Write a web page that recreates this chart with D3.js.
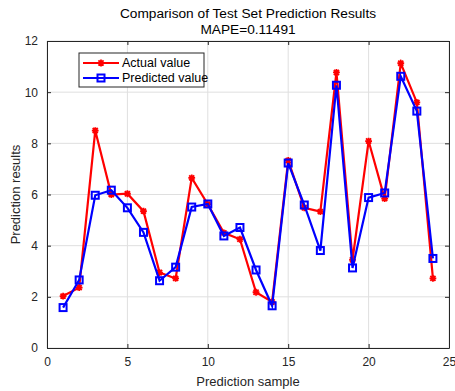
<!DOCTYPE html>
<html>
<head>
<meta charset="utf-8">
<script src="https://cdn.jsdelivr.net/npm/d3@7"></script>
<style>
  body { margin: 0; background: #fff; }
  text { font-family: "Liberation Sans", Arial, sans-serif; }
</style>
</head>
<body>
<svg id="chart" width="455" height="391"></svg>
<script>
// sample index 1..24
const samples = d3.range(1, 25);
const actualValues = [2.03, 2.36, 8.5, 6.0, 6.03, 5.35, 2.95, 2.72, 6.65, 5.62, 4.5, 4.25,
  2.18, 1.8, 7.33, 5.48, 5.33, 10.77, 3.45, 8.09, 5.84, 11.13, 9.6, 2.72];
const predictedValues = [1.58, 2.66, 5.97, 6.17, 5.48, 4.52, 2.63, 3.16, 5.51, 5.63, 4.38, 4.71,
  3.05, 1.65, 7.23, 5.59, 3.81, 10.27, 3.13, 5.88, 6.06, 10.62, 9.26, 3.5];
const xTicks = [0, 5, 10, 15, 20, 25];
const yTicks = [0, 2, 4, 6, 8, 10, 12];

const margin = {top: 41, right: 6, bottom: 43, left: 47};
const width = 455 - margin.left - margin.right;
const height = 391 - margin.top - margin.bottom;

const svg = d3.select('#chart');
const chart = svg.append('g')
  .attr('transform', `translate(${margin.left}, ${margin.top})`);

const xScale = d3.scaleLinear().domain([0, 25]).range([0, width]);
const yScale = d3.scaleLinear().domain([0, 12]).range([height, 0]);

// grid
chart.append('g')
  .selectAll('line.gx')
  .data(xTicks)
  .enter().append('line')
  .attr('x1', d => xScale(d)).attr('x2', d => xScale(d))
  .attr('y1', 0).attr('y2', height)
  .attr('stroke', '#dfdfdf').attr('stroke-width', 1);
chart.append('g')
  .selectAll('line.gy')
  .data(yTicks)
  .enter().append('line')
  .attr('y1', d => yScale(d)).attr('y2', d => yScale(d))
  .attr('x1', 0).attr('x2', width)
  .attr('stroke', '#dfdfdf').attr('stroke-width', 1);

// axes (inward ticks, box)
const axisColor = '#262626';
const xAxis = chart.append('g')
  .attr('transform', `translate(0, ${height})`)
  .call(d3.axisBottom(xScale).tickValues(xTicks).tickSizeInner(-4).tickSizeOuter(0).tickPadding(9));
const xAxisTop = chart.append('g')
  .call(d3.axisTop(xScale).tickValues(xTicks).tickSizeInner(-4).tickSizeOuter(0).tickFormat(''));
const yAxis = chart.append('g')
  .call(d3.axisLeft(yScale).tickValues(yTicks).tickSizeInner(-4).tickSizeOuter(0).tickPadding(9));
const yAxisRight = chart.append('g')
  .attr('transform', `translate(${width}, 0)`)
  .call(d3.axisRight(yScale).tickValues(yTicks).tickSizeInner(-4).tickSizeOuter(0).tickFormat(''));

[xAxis, xAxisTop, yAxis, yAxisRight].forEach(a => {
  a.select('.domain').attr('stroke', axisColor).attr('stroke-width', 1);
  a.selectAll('.tick line').attr('stroke', axisColor);
  a.selectAll('.tick text')
    .attr('fill', axisColor)
    .style('font-size', '12px')
    .style('font-family', '"Liberation Sans", Arial, sans-serif');
});

// lines
const line = d3.line().x(d => xScale(d[0])).y(d => yScale(d[1]));
const actualData = samples.map((s, i) => [s, actualValues[i]]);
const predictedData = samples.map((s, i) => [s, predictedValues[i]]);

function drawStar(g, x, y) {
  const r = 3.4;
  g.append('path')
    .attr('d', `M${x - r},${y}L${x + r},${y}M${x},${y - r}L${x},${y + r}` +
      `M${x - r * 0.75},${y - r * 0.75}L${x + r * 0.75},${y + r * 0.75}` +
      `M${x - r * 0.75},${y + r * 0.75}L${x + r * 0.75},${y - r * 0.75}`)
    .attr('stroke', '#ff0000').attr('stroke-width', 1.8).attr('fill', 'none');
}
function drawSquare(g, x, y) {
  const s = 7;
  g.append('rect')
    .attr('x', x - s / 2).attr('y', y - s / 2)
    .attr('width', s).attr('height', s)
    .attr('stroke', '#0000ff').attr('stroke-width', 2).attr('fill', 'none');
}

chart.append('path')
  .datum(actualData)
  .attr('d', line)
  .attr('fill', 'none').attr('stroke', '#ff0000').attr('stroke-width', 2.2);
const redMarks = chart.append('g');
actualData.forEach(d => drawStar(redMarks, xScale(d[0]), yScale(d[1])));

chart.append('path')
  .datum(predictedData)
  .attr('d', line)
  .attr('fill', 'none').attr('stroke', '#0000ff').attr('stroke-width', 2.2);
const blueMarks = chart.append('g');
predictedData.forEach(d => drawSquare(blueMarks, xScale(d[0]), yScale(d[1])));

// legend
const legend = chart.append('g').attr('transform', 'translate(32, 12)');
legend.append('rect')
  .attr('x', 0).attr('y', 0).attr('width', 125).attr('height', 34)
  .attr('fill', '#fff').attr('stroke', axisColor).attr('stroke-width', 1);
legend.append('line').attr('x1', 4).attr('x2', 40).attr('y1', 10).attr('y2', 10)
  .attr('stroke', '#ff0000').attr('stroke-width', 2.2);
drawStar(legend, 22, 10);
legend.append('line').attr('x1', 4).attr('x2', 40).attr('y1', 25).attr('y2', 25)
  .attr('stroke', '#0000ff').attr('stroke-width', 2.2);
drawSquare(legend, 22, 25);
legend.append('text').attr('x', 43).attr('y', 14).style('font-size', '12.5px').attr('fill', '#000').text('Actual value');
legend.append('text').attr('x', 43).attr('y', 29).style('font-size', '12.5px').attr('fill', '#000').text('Predicted value');

// titles and labels
svg.append('text')
  .attr('x', margin.left + width / 2).attr('y', 18)
  .attr('text-anchor', 'middle').style('font-size', '13.7px').attr('fill', '#000')
  .text('Comparison of Test Set Prediction Results');
svg.append('text')
  .attr('x', margin.left + width / 2).attr('y', 34)
  .attr('text-anchor', 'middle').style('font-size', '13.7px').attr('fill', '#000')
  .text('MAPE=0.11491');
svg.append('text')
  .attr('x', margin.left + width / 2).attr('y', 386)
  .attr('text-anchor', 'middle').style('font-size', '13px').attr('fill', axisColor)
  .text('Prediction sample');
svg.append('text')
  .attr('transform', `translate(20, ${margin.top + height / 2}) rotate(-90)`)
  .attr('text-anchor', 'middle').style('font-size', '13px').attr('fill', axisColor)
  .text('Prediction results');
</script>
</body>
</html>
